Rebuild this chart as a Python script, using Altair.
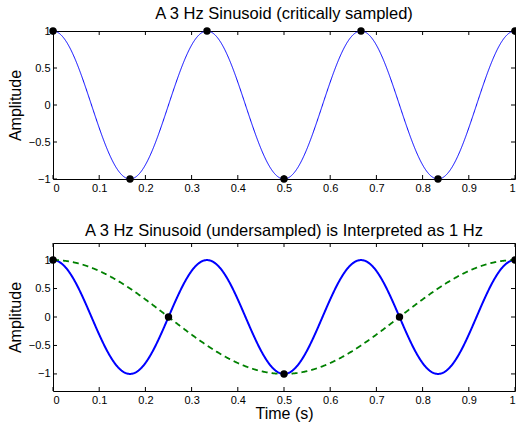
import altair as alt
import numpy as np
import pandas as pd

# ---- data ----
signal_freq_hz = 3      # the sinusoid
alias_freq_hz = 1       # what the undersampled version is read as
time_grid = np.linspace(0.0, 1.0, 1201)

top_sample_t = [0.0, 1 / 6, 2 / 6, 0.5, 4 / 6, 5 / 6, 1.0]
top_sample_v = [1, -1, 1, -1, 1, -1, 1]
bottom_sample_t = [0.0, 0.25, 0.5, 0.75, 1.0]
bottom_sample_v = [1, 0, -1, 0, 1]

x_ticks = [0, 0.1, 0.2, 0.3, 0.4, 0.5, 0.6, 0.7, 0.8, 0.9, 1]
y_ticks = [-1, -0.5, 0, 0.5, 1]

top_title = "A 3 Hz Sinusoid (critically sampled)"
bottom_title = "A 3 Hz Sinusoid (undersampled) is Interpreted as 1 Hz"

signal_df = pd.DataFrame({"t": time_grid, "v": np.cos(2 * np.pi * signal_freq_hz * time_grid)})
alias_df = pd.DataFrame({"t": time_grid, "v": np.cos(2 * np.pi * alias_freq_hz * time_grid)})
top_samples_df = pd.DataFrame({"t": top_sample_t, "v": top_sample_v})
bottom_samples_df = pd.DataFrame({"t": bottom_sample_t, "v": bottom_sample_v})
xtick_df = pd.DataFrame({"t": x_ticks})
ytick_df = pd.DataFrame({"v": y_ticks})

W, H = 462, 148
FONT = "Liberation Sans"
TICK = 4


def panel(title, ydomain, lines, samples, xtitle):
    x_enc = alt.X("t:Q", scale=alt.Scale(domain=[0, 1], nice=False, zero=False),
                  axis=alt.Axis(values=x_ticks, format=".1~f", ticks=False, domain=False,
                                grid=False, labelPadding=3,
                                title=xtitle if xtitle else None, titlePadding=0))
    y_enc = alt.Y("v:Q", scale=alt.Scale(domain=ydomain, nice=False, zero=False),
                  axis=alt.Axis(values=y_ticks, format=".1~f", ticks=False, domain=False,
                                grid=False, labelPadding=3, title="Amplitude",
                                titlePadding=5))
    layers = []
    for df, color, width, dash in lines:
        kw = dict(color=color, strokeWidth=width, clip=True)
        if dash:
            kw["strokeDash"] = dash
        layers.append(alt.Chart(df).mark_line(**kw).encode(x=x_enc, y=y_enc))
    layers.append(alt.Chart(samples).mark_circle(color="black", size=55, opacity=1)
                  .encode(x=x_enc, y=y_enc))
    # inward tick marks on all four sides
    layers.append(alt.Chart(xtick_df).mark_rule(color="black", strokeWidth=1)
                  .encode(x=x_enc, y=alt.value(H), y2=alt.value(H - TICK)))
    layers.append(alt.Chart(xtick_df).mark_rule(color="black", strokeWidth=1)
                  .encode(x=x_enc, y=alt.value(0), y2=alt.value(TICK)))
    layers.append(alt.Chart(ytick_df).mark_rule(color="black", strokeWidth=1)
                  .encode(y=y_enc, x=alt.value(0), x2=alt.value(TICK)))
    layers.append(alt.Chart(ytick_df).mark_rule(color="black", strokeWidth=1)
                  .encode(y=y_enc, x=alt.value(W - TICK), x2=alt.value(W)))
    return alt.layer(*layers).properties(
        width=W, height=H,
        title=alt.TitleParams(title, fontSize=16.5, font=FONT, fontWeight="normal",
                              color="black", offset=3, anchor="middle"),
    )


top = panel(top_title, [-1, 1], [(signal_df, "#0000ff", 1, None)], top_samples_df, None)
bottom = panel(bottom_title, [-1.3, 1.3],
               [(signal_df, "#0000ff", 2, None), (alias_df, "#008000", 1.8, [6, 4])],
               bottom_samples_df, "Time (s)")

chart = alt.vconcat(top, bottom, spacing=28).properties(
    padding={"left": 6, "top": 5, "right": -4, "bottom": 0},
    background="white",
).configure_view(stroke="black", strokeWidth=1).configure_axis(
    labelFont=FONT, labelFontSize=11, labelColor="black",
    titleFont=FONT, titleFontSize=16, titleFontWeight="normal", titleColor="black",
)

chart.save("out.html", embed_options={"renderer": "svg", "actions": False})
